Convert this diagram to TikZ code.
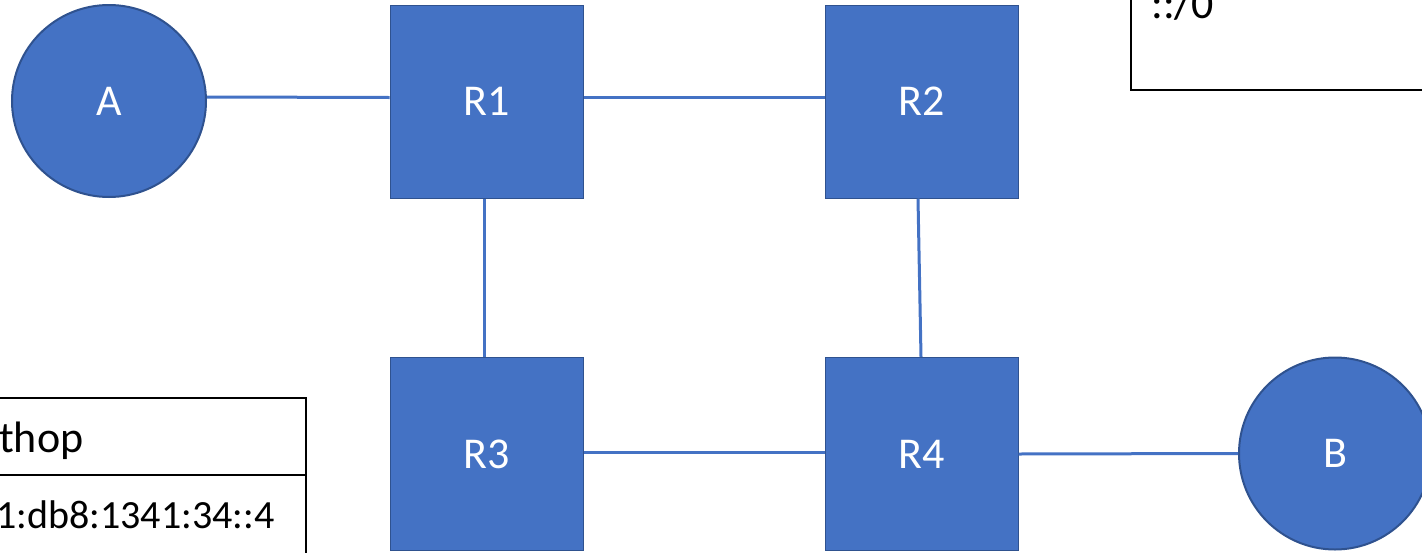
\documentclass[tikz,border=0pt]{standalone}
\usepackage{fontspec}
\setmainfont{Carlito}
\usetikzlibrary{shapes.geometric}
\definecolor{ofblue}{HTML}{4472C4}
\definecolor{ofedge}{HTML}{2F528F}
\begin{document}
\begin{tikzpicture}[x=1pt,y=-1pt,
  big/.style={font=\fontsize{44}{52}\selectfont},
  small/.style={font=\fontsize{40}{48}\selectfont},
  host/.style={ellipse,fill=ofblue,draw=ofedge,line width=2pt,text=white,big,inner sep=0pt},
  router/.style={rectangle,fill=ofblue,draw=ofedge,line width=1pt,text=white,big,minimum width=193pt,minimum height=193pt,inner sep=0pt},
  link/.style={draw=ofblue,line width=3pt},
  frame/.style={draw=black,line width=2pt},
  celltext/.style={text=black,inner sep=0pt}]
\useasboundingbox (0,0) rectangle (1422,552);
\clip (0,0) rectangle (1422,552);
% routers and hosts
\node[host,minimum width=194pt,minimum height=192pt] (A) at (109,101) {A};
\node[router] (R1) at (486.5,101.5) {R1};
\node[router] (R2) at (921.5,101.5) {R2};
\node[router] (R3) at (486.5,454) {R3};
\node[router] (R4) at (921.5,454) {R4};
\node[host,minimum width=192pt,minimum height=192pt] (B) at (1335,453.5) {B};
% links
\draw[link] ([yshift=4pt]A.east) -- ([yshift=4pt]R1.west);
\draw[link] ([yshift=4pt]R1.east) -- ([yshift=4pt]R2.west);
\draw[link] ([xshift=-2.5pt]R1.south) -- ([xshift=-2.5pt]R3.north);
\draw[link] ([xshift=-3.5pt]R2.south) -- ([xshift=-0.5pt]R4.north);
\draw[link] ([yshift=2pt]R3.east) -- ([yshift=2pt]R4.west);
\draw[link] (R4.east) -- (B.west);
% top-right box
\coordinate (tl) at (1131,-10);
\coordinate (br) at (1440,90);
\draw[frame] (tl) rectangle (br);
\node[celltext,big,anchor=base west] (route) at (1151,18) {::/0};
% bottom-left table
\coordinate (t1) at (-10,398);
\coordinate (t2) at (306,398);
\coordinate (t3) at (-10,475);
\coordinate (t4) at (306,475);
\coordinate (t5) at (306,560);
\draw[frame] (t1) -- (t2) -- (t5);
\draw[frame] (t3) -- (t4);
\node[celltext,big,anchor=base west] (hdr) at (-1,452) {thop};
\node[celltext,small,anchor=base west] (nh) at (-4,528) {1:db8:1341:34::4};
\end{tikzpicture}
\end{document}
